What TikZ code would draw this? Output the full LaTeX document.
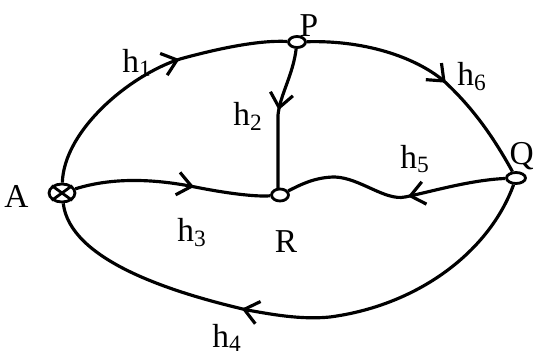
\documentclass[tikz,border=0pt]{standalone}
\usepackage{fontspec}
\setmainfont{Liberation Serif}
\usetikzlibrary{shapes.geometric,arrows.meta,decorations.markings}
\begin{document}
\begin{tikzpicture}[x=0.02cm,y=-0.02cm,
  vertex/.style={draw,ellipse,line width=1.6pt,inner sep=0pt},
  edge/.style={line width=1.8pt},
  marrow/.style={postaction={decorate},decoration={markings,mark=at position #1 with {\arrow{Straight Barb[length=8pt,width=13pt]}}}},
  lbl/.style={font=\fontsize{19}{22}\selectfont,inner sep=0pt,anchor=base west}]
\useasboundingbox (0,0) rectangle (535,355);
% vertices
\node[vertex,minimum width=0.52cm,minimum height=0.36cm] (A) at (62,193) {};
\draw[line width=1.6pt] (A.north west) -- (A.south east) (A.north east) -- (A.south west);
\node[vertex,minimum width=0.34cm,minimum height=0.22cm] (P) at (297,42) {};
\node[vertex,minimum width=0.34cm,minimum height=0.24cm] (R) at (280,195) {};
\node[vertex,minimum width=0.38cm,minimum height=0.22cm] (Q) at (516,178) {};
% edges
\draw[edge,marrow=0.62] (A) .. controls (64,130) and (130,75) .. (180,59) .. controls (220,48) and (260,40) .. (P);
\draw[edge,marrow=0.57] (P) .. controls (370,40) and (420,60) .. (445,82) .. controls (475,110) and (495,140) .. (Q);
\draw[edge,marrow=0.45] (P) .. controls (293,75) and (280,95) .. (278,115) -- (278,188);
\draw[edge,marrow=0.61] (A) .. controls (110,178) and (150,178) .. (195,187) .. controls (225,193) and (255,197) .. (R);
\draw[edge,marrow=0.44] (Q) .. controls (470,180) and (430,192) .. (405,197) .. controls (385,201) and (360,178) .. (335,177) .. controls (315,177) and (300,185) .. (R);
\draw[edge,marrow=0.6] (Q) .. controls (490,250) and (420,305) .. (330,317) .. controls (300,320) and (270,314) .. (247,310) .. controls (170,292) and (70,260) .. (A);
% labels
\node[lbl,anchor=base] (lA) at (16.5,207) {A};
\node[lbl,anchor=base] (lP) at (309,36) {P};
\node[lbl,anchor=base] (lR) at (286,252) {R};
\node[lbl,anchor=base east] (lQ) at (534,164) {Q};
\node[lbl] (h1) at (122,72) {h\textsubscript{1}};
\node[lbl] (h2) at (233,125) {h\textsubscript{2}};
\node[lbl] (h3) at (177,241) {h\textsubscript{3}};
\node[lbl] (h4) at (212,347) {h\textsubscript{4}};
\node[lbl] (h5) at (400,168) {h\textsubscript{5}};
\node[lbl] (h6) at (457,85) {h\textsubscript{6}};
\end{tikzpicture}
\end{document}
